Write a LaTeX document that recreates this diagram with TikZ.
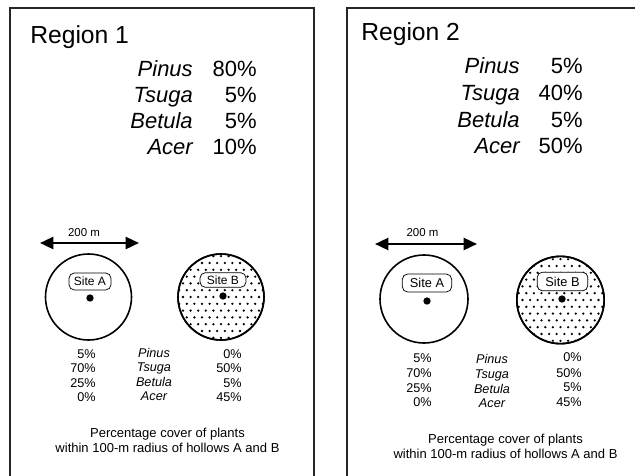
\documentclass[tikz,border=0pt]{standalone}
\usepackage{fontspec}
\setmainfont{Liberation Sans}
\usetikzlibrary{arrows.meta}
\begin{document}
\begin{tikzpicture}[x=0.75pt,y=-0.75pt,
  panel/.style={draw=black!85,line width=0.8pt},
  region/.style={font=\fontsize{18.5}{22}\selectfont, inner sep=0, anchor=base west},
  bigsp/.style={font=\fontsize{16.5}{20}\selectfont\itshape, inner sep=0, anchor=base east},
  bigpc/.style={font=\fontsize{16.5}{20}\selectfont, inner sep=0, anchor=base east},
  smpc/.style={font=\fontsize{9.5}{11}\selectfont, inner sep=0, anchor=base east},
  smsp/.style={font=\fontsize{9.5}{11}\selectfont\itshape, inner sep=0, anchor=base},
  caption/.style={font=\fontsize{9.75}{11}\selectfont, inner sep=0, anchor=base},
  scalelbl/.style={font=\fontsize{8.6}{10}\selectfont, inner sep=0, anchor=base},
  hollow/.style={circle, draw, line width=1.2pt, minimum size=64.5pt, inner sep=0},
  sitelbl/.style={draw, rounded corners=4pt, fill=white, line width=0.55pt, inner sep=0, font=\fontsize{9}{10}\selectfont},
  core/.style={circle, fill, inner sep=0, minimum size=5.5pt},
  scalebar/.style={line width=1.8pt, {Triangle[length=10pt,width=9pt]}-{Triangle[length=10pt,width=9pt]}}
]
\useasboundingbox (0,0) rectangle (635,475);
\clip (0,0) rectangle (635,475);
\fill[white] (0,0) rectangle (635,475);

% panels
\draw[panel] (10,8) -- (314,8) -- (314,490) -- (10,490) -- cycle;
\draw[panel] (347,8) -- (650,8) -- (650,490) -- (347,490) -- cycle;

% ---------- Region 1 ----------
\node[region] (r1) at (30,43) {Region 1};
\node[bigsp] (r1n1) at (193,76) {Pinus};
\node[bigsp] (r1n2) at (193,102) {Tsuga};
\node[bigsp] (r1n3) at (193,128) {Betula};
\node[bigsp] (r1n4) at (193,154) {Acer};
\node[bigpc] (r1p1) at (257,76) {80\%};
\node[bigpc] (r1p2) at (257,102) {5\%};
\node[bigpc] (r1p3) at (257,128) {5\%};
\node[bigpc] (r1p4) at (257,154) {10\%};

\node[scalelbl] (s1t) at (84,236) {200 m};
\coordinate (s1l) at (40,243);
\coordinate (s1r) at (139,243);
\draw[scalebar] (s1l) -- (s1r);

\node[hollow] (cA1) at (88.5,297) {};
\node[hollow] (cB1) at (221,297) {};
\begin{scope}
  \clip (221,297) circle (32pt);
  \foreach \j in {-7,...,7} {
    \foreach \i in {-7,...,7} {
      \fill ({221+7.6*\i+3.8*mod(abs(\j),2)},{297+6.8*\j}) circle (0.95pt);
    }
  }
\end{scope}
\node[hollow] at (cB1) {};
\node[core] (dA1) at (90,298) {};
\node[core] (dB1) at (223,296) {};
\node[sitelbl, minimum width=31.5pt, minimum height=12.75pt] (lA1) at (90,281.5) {Site A};
\node[sitelbl, minimum width=34.5pt, minimum height=11pt] (lB1) at (223,280) {Site B};

\node[smpc] (a1p1) at (96,358) {5\%};
\node[smpc] (a1p2) at (96,372.5) {70\%};
\node[smpc] (a1p3) at (96,387) {25\%};
\node[smpc] (a1p4) at (96,401) {0\%};
\node[smsp] (m1n1) at (154,357) {Pinus};
\node[smsp] (m1n2) at (154,371.5) {Tsuga};
\node[smsp] (m1n3) at (154,386.5) {Betula};
\node[smsp] (m1n4) at (154,400) {Acer};
\node[smpc] (b1p1) at (242,358) {0\%};
\node[smpc] (b1p2) at (242,372.5) {50\%};
\node[smpc] (b1p3) at (242,387) {5\%};
\node[smpc] (b1p4) at (242,401) {45\%};

\node[caption] (cap1a) at (167.5,437) {Percentage cover of plants};
\node[caption] (cap1b) at (167.5,452) {within 100-m radius of hollows A and B};

% ---------- Region 2 ----------
\node[region] (r2) at (361,40) {Region 2};
\node[bigsp] (r2n1) at (520,73) {Pinus};
\node[bigsp] (r2n2) at (520,100) {Tsuga};
\node[bigsp] (r2n3) at (520,127) {Betula};
\node[bigsp] (r2n4) at (520,153) {Acer};
\node[bigpc] (r2p1) at (583,73) {5\%};
\node[bigpc] (r2p2) at (583,100) {40\%};
\node[bigpc] (r2p3) at (583,127) {5\%};
\node[bigpc] (r2p4) at (583,153) {50\%};

\node[scalelbl] (s2t) at (422.5,236) {200 m};
\coordinate (s2l) at (375,244);
\coordinate (s2r) at (477,244);
\draw[scalebar] (s2l) -- (s2r);

\node[hollow, minimum size=66pt] (cA2) at (424,299) {};
\node[hollow, minimum size=65.5pt] (cB2) at (560.5,300) {};
\begin{scope}
  \clip (560.5,300) circle (32.5pt);
  \foreach \j in {-7,...,7} {
    \foreach \i in {-7,...,7} {
      \fill ({560.5+7.6*\i+3.8*mod(abs(\j),2)},{300+6.8*\j}) circle (0.95pt);
    }
  }
\end{scope}
\node[hollow, minimum size=65.5pt] at (cB2) {};
\node[core] (dA2) at (427,301) {};
\node[core] (dB2) at (562,299) {};
\node[sitelbl, minimum width=37pt, minimum height=13.5pt, font=\fontsize{9.6}{11}\selectfont] (lA2) at (427,283) {Site A};
\node[sitelbl, minimum width=38pt, minimum height=14pt, font=\fontsize{9.6}{11}\selectfont] (lB2) at (562.5,281.5) {Site B};

\node[smpc] (a2p1) at (432,362) {5\%};
\node[smpc] (a2p2) at (432,377) {70\%};
\node[smpc] (a2p3) at (432,392) {25\%};
\node[smpc] (a2p4) at (432,406) {0\%};
\node[smsp] (m2n1) at (492,363) {Pinus};
\node[smsp] (m2n2) at (492,378) {Tsuga};
\node[smsp] (m2n3) at (492,393) {Betula};
\node[smsp] (m2n4) at (492,407) {Acer};
\node[smpc] (b2p1) at (582,361) {0\%};
\node[smpc] (b2p2) at (582,377) {50\%};
\node[smpc] (b2p3) at (582,391) {5\%};
\node[smpc] (b2p4) at (582,406) {45\%};

\node[caption] (cap2a) at (505.5,443) {Percentage cover of plants};
\node[caption] (cap2b) at (505.5,458) {within 100-m radius of hollows A and B};
\end{tikzpicture}
\end{document}
